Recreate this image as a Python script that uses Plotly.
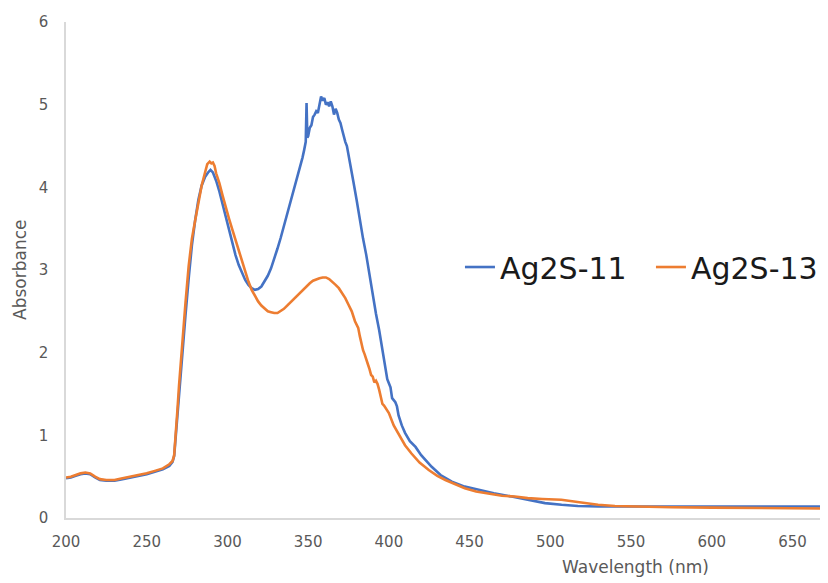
import plotly.graph_objects as go

# ---- data ----
wl_11 = [200, 203, 206, 209, 212, 215, 218, 221, 225, 230, 235, 240, 245, 250, 255, 260, 264, 266, 267, 268,
         269, 270, 272, 274, 276, 278, 280, 282, 284, 286, 288, 289.5, 291, 293, 295, 297, 299, 301, 303, 305,
         307, 309, 311, 313, 315, 317, 319, 321, 323, 325, 327, 329, 331, 333, 335, 337, 339, 341, 343, 345,
         346.5, 347.5, 348.5, 349, 349.5, 350, 351, 352, 353, 354, 355, 356, 357, 358, 359, 360, 361, 362, 363, 364,
         365, 366, 367, 368, 369, 370, 371, 372, 373, 374, 376, 378, 380, 382, 384, 386, 388, 390, 392, 394,
         395, 396, 397, 398, 399, 400, 401, 402, 403, 404, 405, 406, 408, 410, 413, 416.5, 420, 426.5, 432, 439,
         447, 455.6, 465, 476, 486, 496.7, 507, 517, 530, 550, 575, 600, 625, 650, 672]
abs_11 = [0.48, 0.49, 0.51, 0.53, 0.54, 0.53, 0.49, 0.46, 0.45, 0.45, 0.47, 0.49, 0.51, 0.53, 0.56, 0.59, 0.63, 0.68, 0.75, 1.0,
          1.3, 1.55, 1.95, 2.45, 2.9, 3.3, 3.6, 3.85, 4.02, 4.12, 4.18, 4.21, 4.18, 4.08, 3.95, 3.8, 3.63, 3.47, 3.32, 3.18,
          3.06, 2.96, 2.88, 2.82, 2.78, 2.76, 2.77, 2.8, 2.86, 2.93, 3.02, 3.13, 3.26, 3.39, 3.53, 3.67, 3.81, 3.95, 4.09, 4.24,
          4.36, 4.45, 4.55, 5.02, 4.6, 4.62, 4.72, 4.75, 4.85, 4.88, 4.92, 4.9, 5.02, 5.1, 5.05, 5.08, 5.0, 5.03, 4.98, 5.04,
          4.98, 4.88, 4.95, 4.9, 4.82, 4.78, 4.7, 4.62, 4.55, 4.5, 4.3, 4.07, 3.85, 3.6, 3.38, 3.18, 2.93, 2.7, 2.47, 2.27,
          2.16, 2.05, 1.9, 1.78, 1.68, 1.63, 1.58, 1.45, 1.42, 1.4, 1.35, 1.24, 1.12, 1.03, 0.93, 0.86, 0.76, 0.62, 0.52, 0.44,
          0.38, 0.34, 0.30, 0.26, 0.22, 0.18, 0.16, 0.145, 0.14, 0.14, 0.14, 0.14, 0.14, 0.14, 0.14]

wl_13 = [200, 203, 206, 209, 212, 215, 218, 221, 225, 230, 235, 240, 245, 250, 255, 260, 264, 266, 267, 268,
         269, 270, 272, 274, 276, 278, 280, 282, 284, 286, 287.5, 289, 290, 291, 292, 293, 295, 297, 299, 301,
         303, 305, 307, 309, 311, 313, 315, 317, 319, 321, 323, 325, 327, 329, 331, 333, 335, 337, 339, 341,
         343, 345, 347, 349, 351, 353, 355, 357, 359, 361, 363, 365, 367, 369, 371, 373, 375, 377, 379, 380,
         381, 382, 383, 384, 385, 386, 387, 388, 389, 390, 391, 392, 393, 394, 395, 396, 397, 398, 400, 403,
         406, 410, 414, 419, 424.7, 430, 435, 441, 447, 454, 461.7, 470, 478, 486, 495, 506.8, 518, 529.6, 540, 555,
         575, 600, 625, 650, 672]
abs_13 = [0.49, 0.50, 0.52, 0.54, 0.55, 0.54, 0.50, 0.47, 0.46, 0.46, 0.48, 0.50, 0.52, 0.54, 0.57, 0.60, 0.65, 0.69, 0.76, 1.0,
          1.3, 1.6, 2.15, 2.6, 3.05, 3.38, 3.6, 3.82, 4.02, 4.17, 4.28, 4.31, 4.29, 4.3, 4.26, 4.17, 4.05, 3.9, 3.75, 3.62,
          3.49, 3.36, 3.24, 3.11, 2.98, 2.86, 2.76, 2.68, 2.62, 2.57, 2.53, 2.5, 2.49, 2.48, 2.48, 2.5, 2.53, 2.57, 2.61, 2.65,
          2.69, 2.73, 2.77, 2.81, 2.84, 2.87, 2.89, 2.9, 2.91, 2.91, 2.89, 2.86, 2.82, 2.78, 2.72, 2.66, 2.58, 2.5, 2.38, 2.33,
          2.3, 2.2, 2.1, 2.03, 1.98, 1.93, 1.86, 1.8, 1.73, 1.71, 1.64, 1.66, 1.62, 1.55, 1.45, 1.38, 1.36, 1.33, 1.27, 1.12,
          1.02, 0.88, 0.78, 0.67, 0.58, 0.51, 0.46, 0.41, 0.36, 0.32, 0.30, 0.27, 0.26, 0.24, 0.23, 0.22, 0.19, 0.16, 0.145, 0.135,
          0.13, 0.125, 0.12, 0.115, 0.115]

series_names = ["Ag2S-11", "Ag2S-13"]
x_ticks = [200, 250, 300, 350, 400, 450, 500, 550, 600, 650]
y_ticks = [0, 1, 2, 3, 4, 5, 6]

FONT = "DejaVu Sans, sans-serif"
GREY = "#595959"

fig = go.Figure()
fig.add_trace(go.Scatter(x=wl_11, y=abs_11, mode="lines", name=series_names[0],
                         line=dict(color="#4472C4", width=2.6)))
fig.add_trace(go.Scatter(x=wl_13, y=abs_13, mode="lines", name=series_names[1],
                         line=dict(color="#ED7D31", width=2.6)))

fig.update_layout(
    width=820, height=575,
    margin=dict(l=58, r=0, t=14, b=65, autoexpand=False),
    paper_bgcolor="white", plot_bgcolor="white",
    font=dict(family=FONT, color=GREY, size=15),
    showlegend=True,
    legend=dict(orientation="h", x=0.517, y=0.506, xanchor="left", yanchor="middle",
                font=dict(family=FONT, size=30, color="#1a1a1a"),
                bgcolor="rgba(0,0,0,0)", itemwidth=30, entrywidth=146, entrywidthmode="pixels"),
    annotations=[
        dict(text="Wavelength (nm)", x=553, xref="x", y=-0.099, yref="paper",
             showarrow=False, font=dict(family=FONT, size=17, color=GREY),
             xanchor="center", yanchor="middle"),
        dict(text="Absorbance", x=-0.0604, xref="paper", y=0.5, yref="paper", textangle=-90,
             showarrow=False, font=dict(family=FONT, size=17, color=GREY),
             xanchor="center", yanchor="middle"),
    ],
)
fig.update_xaxes(range=[200, 672], tickvals=x_ticks, showgrid=False, zeroline=False, automargin=False,
                 showline=True, linecolor="#d9d9d9", linewidth=1.5, ticks="",
                 tickfont=dict(family=FONT, size=15, color=GREY), ticklabelstandoff=9)
fig.update_yaxes(range=[0, 6], tickvals=y_ticks, showgrid=False, zeroline=False, automargin=False,
                 showline=True, linecolor="#d9d9d9", linewidth=1.5, ticks="",
                 tickfont=dict(family=FONT, size=15, color=GREY), ticklabelstandoff=13)

fig.write_html("out.html")
